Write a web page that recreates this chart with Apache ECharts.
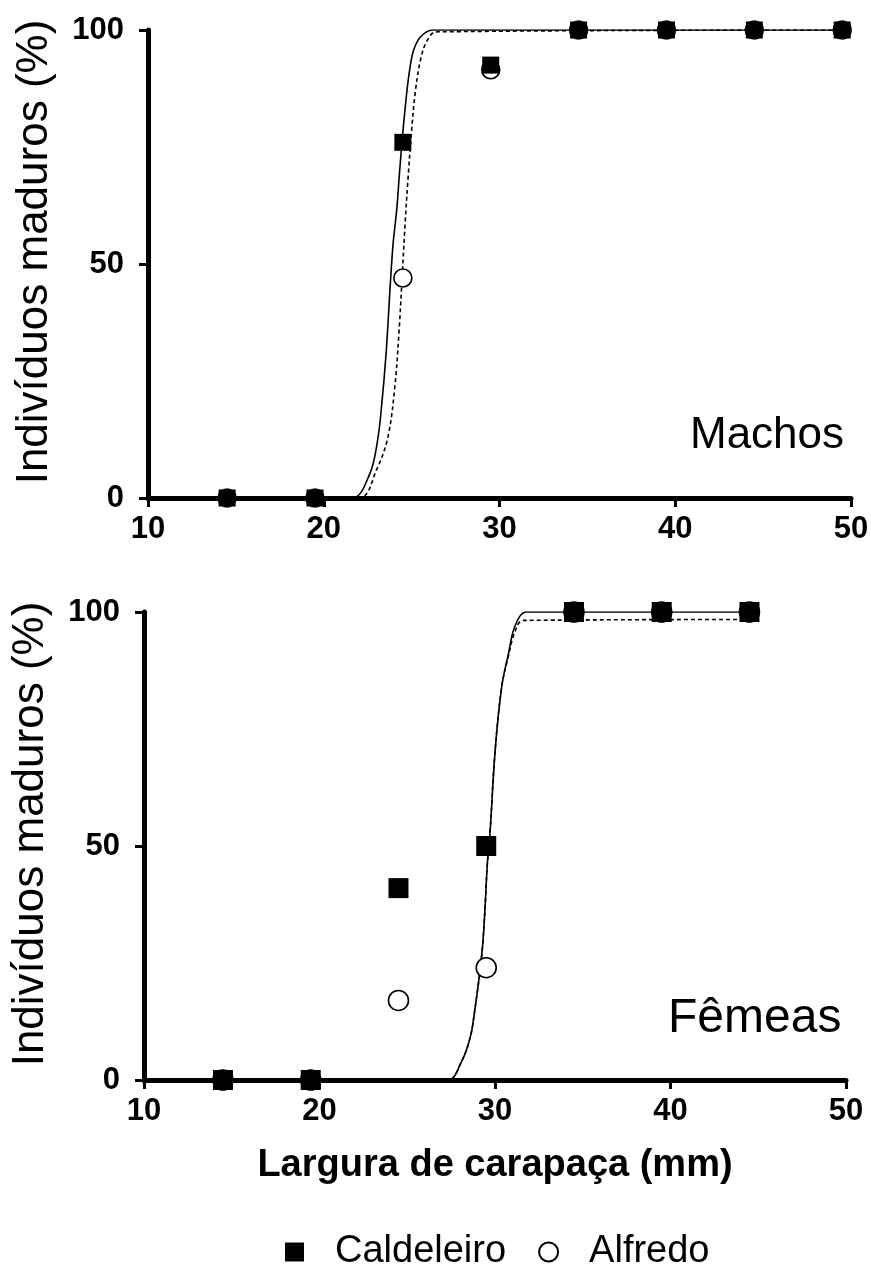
<!DOCTYPE html>
<html>
<head>
<meta charset="utf-8">
<script src="https://cdn.jsdelivr.net/npm/echarts@6/dist/echarts.min.js"></script>
<style>
  html, body { margin: 0; padding: 0; background: #fff; }
  #chart { width: 871px; height: 1265px; }
</style>
</head>
<body>
<div id="chart"></div>
<script>
// classes de largura de carapaça (mm)
const machosSizes = [14.5, 19.5, 24.5, 29.5, 34.5, 39.5, 44.5, 49.5]
const machosCaldeleiro = [0, 0, 76, 92.5, 100, 100, 100, 100]
const machosAlfredo = [0, 0, 47, 91.5, 100, 100, 100, 100]

const femeasSizes = [14.5, 19.5, 24.5, 29.5, 34.5, 39.5, 44.5]
const femeasCaldeleiro = [0, 0, 41, 50, 100, 100, 100]
const femeasAlfredo = [0, 0, 17, 24, 100, 100, 100]

// curvas ajustadas ([mm, %])
const machosCurvaCaldeleiro = [[10, 0], [21.6, 0], [22.6, 5], [23.05, 12], [23.3, 20], [23.55, 31], [23.8, 46.5],
  [23.95, 54.5], [24.15, 61.5], [24.3, 69], [24.45, 76], [24.65, 84], [24.85, 90.5], [25.1, 95.5],
  [25.5, 98.5], [26.2, 100], [50, 100]]
const machosCurvaAlfredo = [[10, 0], [22.0, 0], [23.0, 6], [23.65, 13], [24.05, 24], [24.3, 36.5], [24.45, 46.5],
  [24.62, 58], [24.8, 68.5], [25.0, 78.5], [25.2, 86.5], [25.5, 93.5], [25.85, 97.5], [26.4, 99.6], [49.5, 100]]
const femeasCurvaCaldeleiro = [[10, 0], [27.3, 0], [28.1, 4], [28.6, 9.3], [28.85, 15], [29.1, 22], [29.3, 29],
  [29.45, 38], [29.56, 46], [29.72, 53], [30.0, 70], [30.38, 84], [30.76, 91], [31.14, 97], [31.8, 100], [44.5, 100]]
const femeasCurvaAlfredo = [[10, 0], [27.3, 0], [28.1, 4], [28.6, 9.3], [28.85, 15], [29.1, 22], [29.3, 29],
  [29.45, 38], [29.56, 46], [29.72, 53], [30.0, 70], [30.38, 84], [30.76, 90.5], [31.14, 95.8], [31.6, 98.2], [44.5, 98.4]]

const xTicks = [10, 20, 30, 40, 50]
const yTicks = [0, 50, 100]

const font = 'Liberation Sans, Arial, sans-serif'

function pairs(xs, ys) {
  return xs.map((x, i) => [x, ys[i]])
}

function xAxisOf(gridIndex, withName) {
  return {
    type: 'value',
    gridIndex: gridIndex,
    min: xTicks[0],
    max: xTicks[xTicks.length - 1],
    interval: 10,
    name: withName ? 'Largura de carapaça (mm)' : '',
    nameLocation: 'middle',
    nameGap: 67,
    nameTextStyle: { fontFamily: font, fontSize: 38, fontWeight: 'bold', color: '#000' },
    axisLine: { onZero: false, lineStyle: { color: '#000', width: 5 } },
    axisTick: { show: true, inside: false, length: 9, lineStyle: { color: '#000', width: 3 } },
    axisLabel: { margin: 16, fontFamily: font, fontSize: 31, fontWeight: 'bold', color: '#000' },
    splitLine: { show: false }
  }
}

function yAxisOf(gridIndex) {
  return {
    type: 'value',
    gridIndex: gridIndex,
    min: yTicks[0],
    max: yTicks[yTicks.length - 1],
    interval: 50,
    name: 'Indivíduos maduros (%)',
    nameLocation: 'middle',
    nameRotate: 90,
    nameGap: 91,
    nameTextStyle: { fontFamily: font, fontSize: 44, color: '#000', padding: [0, 0, 0, 24] },
    axisLine: { onZero: false, lineStyle: { color: '#000', width: 5 } },
    axisTick: { show: true, inside: false, length: 9, lineStyle: { color: '#000', width: 3 } },
    axisLabel: { margin: 24, fontFamily: font, fontSize: 31, fontWeight: 'bold', color: '#000' },
    splitLine: { show: false }
  }
}

function curve(idx, data, dashed) {
  return {
    name: dashed ? 'curva-alfredo' : 'curva-caldeleiro',
    type: 'line',
    xAxisIndex: idx,
    yAxisIndex: idx,
    data: data,
    smooth: 0.35,
    showSymbol: false,
    symbol: 'none',
    silent: true,
    z: 2,
    lineStyle: { color: '#000', width: 1.6, type: dashed ? [4, 3] : 'solid' }
  }
}

function squares(idx, data, size) {
  return {
    name: 'Caldeleiro',
    type: 'scatter',
    xAxisIndex: idx,
    yAxisIndex: idx,
    data: data,
    symbol: 'rect',
    symbolSize: size,
    z: 4,
    itemStyle: { color: '#000', opacity: 1 }
  }
}

function circles(idx, data, size) {
  return {
    name: 'Alfredo',
    type: 'scatter',
    xAxisIndex: idx,
    yAxisIndex: idx,
    data: data,
    symbol: 'circle',
    symbolSize: size,
    z: 3,
    itemStyle: { color: '#fff', borderColor: '#000', borderWidth: 1.6, opacity: 1 }
  }
}

const chart = echarts.init(document.getElementById('chart'), null, { renderer: 'canvas' })

chart.setOption({
  animation: false,
  backgroundColor: '#fff',
  grid: [
    { left: 148, right: 20, top: 30, height: 468, outerBoundsMode: 'none', containLabel: false },
    { left: 144, right: 25, top: 612, height: 468, outerBoundsMode: 'none', containLabel: false }
  ],
  xAxis: [xAxisOf(0, false), xAxisOf(1, true)],
  yAxis: [yAxisOf(0), yAxisOf(1)],
  legend: {
    data: ['Caldeleiro', 'Alfredo'],
    left: 280,
    top: 1228,
    itemWidth: 19,
    itemHeight: 19,
    itemGap: 32,
    selectedMode: false,
    textStyle: { fontFamily: font, fontSize: 38, color: '#000', padding: [0, 0, 0, 26] }
  },
  graphic: [
    { type: 'text', left: 690, top: 414, style: { text: 'Machos', font: '44px ' + font, fill: '#000' } },
    { type: 'text', left: 668, top: 995, style: { text: 'Fêmeas', font: '48px ' + font, fill: '#000' } }
  ],
  series: [
    curve(0, machosCurvaCaldeleiro, false),
    curve(0, machosCurvaAlfredo, true),
    circles(0, pairs(machosSizes, machosAlfredo), 18),
    squares(0, pairs(machosSizes, machosCaldeleiro), 17),
    curve(1, femeasCurvaCaldeleiro, false),
    curve(1, femeasCurvaAlfredo, true),
    circles(1, pairs(femeasSizes, femeasAlfredo), 20),
    squares(1, pairs(femeasSizes, femeasCaldeleiro), 20)
  ]
})
</script>
</body>
</html>
